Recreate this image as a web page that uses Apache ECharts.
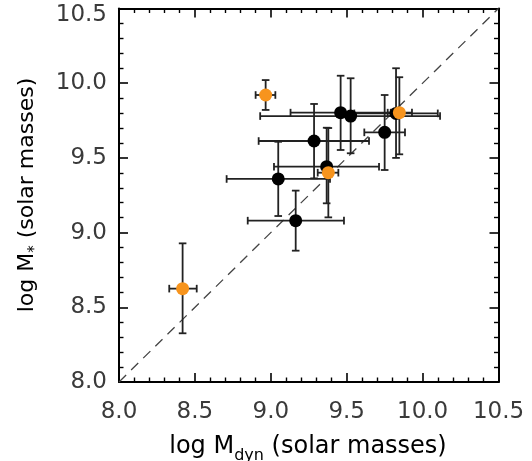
<!DOCTYPE html>
<html>
<head>
<meta charset="utf-8">
<script src="https://cdn.jsdelivr.net/npm/echarts@6/dist/echarts.min.js"></script>
<style>html,body{margin:0;padding:0;background:#fff;}#c{width:532px;height:461px;}</style>
</head>
<body>
<div id="c"></div>
<script>
// Axis ticks
var xTicks = [8.0, 8.5, 9.0, 9.5, 10.0, 10.5];
var yTicks = [8.0, 8.5, 9.0, 9.5, 10.0, 10.5];

// Black points (log Mdyn, log M*) with error bar extents
var blackX     = [9.460, 9.526, 9.825, 9.285, 9.750, 9.368, 9.049, 9.164];
var blackY     = [9.803, 9.780, 9.798, 9.613, 9.671, 9.441, 9.359, 9.080];
var blackXLow  = [9.130, 8.930, 9.550, 8.920, 9.616, 9.021, 8.709, 8.848];
var blackXHigh = [9.790, 10.115, 10.100, 9.647, 9.884, 9.713, 9.390, 9.482];
var blackYLow  = [9.553, 9.531, 9.500, 9.363, 9.419, 9.196, 9.111, 8.879];
var blackYHigh = [10.050, 10.033, 10.100, 9.861, 9.921, 9.702, 9.608, 9.281];

// Orange points
var orangeX     = [8.966, 9.847, 9.379, 8.419];
var orangeY     = [9.921, 9.803, 9.401, 8.625];
var orangeXLow  = [8.900, 9.770, 9.309, 8.331];
var orangeXHigh = [9.030, 9.930, 9.445, 8.512];
var orangeYLow  = [9.821, 9.524, 9.102, 8.326];
var orangeYHigh = [10.021, 10.040, 9.700, 8.928];

// 1:1 line
var oneToOne = [[8.0, 8.0], [10.5, 10.5]];

function build(xs, ys, xl, xh, yl, yh) {
  var out = [];
  for (var i = 0; i < xs.length; i++) out.push([xs[i], ys[i], xl[i], xh[i], yl[i], yh[i]]);
  return out;
}
var errData = build(blackX, blackY, blackXLow, blackXHigh, blackYLow, blackYHigh)
  .concat(build(orangeX, orangeY, orangeXLow, orangeXHigh, orangeYLow, orangeYHigh));
var blackPts = blackX.map(function (v, i) { return [v, blackY[i]]; });
var orangePts = orangeX.map(function (v, i) { return [v, orangeY[i]]; });

var FONT = 'DejaVu Sans';
var TXT = '#3a3a3a';
var cap = 3.8;

function renderErr(params, api) {
  var c = api.coord([api.value(0), api.value(1)]);
  var xl = api.coord([api.value(2), api.value(1)]);
  var xh = api.coord([api.value(3), api.value(1)]);
  var yl = api.coord([api.value(0), api.value(4)]);
  var yh = api.coord([api.value(0), api.value(5)]);
  var st = { stroke: '#222', lineWidth: 1.8 };
  return {
    type: 'group',
    children: [
      { type: 'line', shape: { x1: xl[0], y1: c[1], x2: xh[0], y2: c[1] }, style: st },
      { type: 'line', shape: { x1: xl[0], y1: c[1] - cap, x2: xl[0], y2: c[1] + cap }, style: st },
      { type: 'line', shape: { x1: xh[0], y1: c[1] - cap, x2: xh[0], y2: c[1] + cap }, style: st },
      { type: 'line', shape: { x1: c[0], y1: yl[1], x2: c[0], y2: yh[1] }, style: st },
      { type: 'line', shape: { x1: c[0] - cap, y1: yl[1], x2: c[0] + cap, y2: yl[1] }, style: st },
      { type: 'line', shape: { x1: c[0] - cap, y1: yh[1], x2: c[0] + cap, y2: yh[1] }, style: st }
    ]
  };
}

function axisCommon(showLabel, pos, margin, isY) {
  return {
    type: 'value', min: 8.0, max: 10.5, interval: 0.5, position: pos,
    axisLine: { show: true, onZero: false, lineStyle: { color: '#000', width: 2 } },
    axisTick: { show: true, inside: true, length: 9, lineStyle: { color: '#000', width: 1.6 } },
    minorTick: { show: true, splitNumber: 5, length: 4.5, lineStyle: { color: '#000', width: 1.4 } },
    splitLine: { show: false },
    axisLabel: {
      show: showLabel, fontFamily: FONT, fontSize: 23, color: TXT, margin: margin,
      formatter: function (v) {
        var s = v.toFixed(1);
        if (isY && Math.abs(v - 10.5) < 1e-6) return '{t|' + s + '}';
        return s;
      },
      rich: { t: { fontFamily: FONT, fontSize: 23, color: TXT, padding: [14, 0, 0, 0] } }
    }
  };
}

var chart = echarts.init(document.getElementById('c'), null, { renderer: 'canvas' });
chart.setOption({
  animation: false,
  backgroundColor: '#fff',
  grid: { left: 119, right: 33.5, top: 8.5, bottom: 79, containLabel: false },
  xAxis: [axisCommon(true, 'bottom', 19, false), axisCommon(false, 'top', 8, false)],
  yAxis: [axisCommon(true, 'left', 12, true), axisCommon(false, 'right', 8, true)],
  series: [
    {
      type: 'line', data: oneToOne, symbol: 'none', silent: true, z: 1,
      lineStyle: { color: '#444', width: 1.3, type: [10, 7] }
    },
    {
      type: 'custom', renderItem: renderErr, data: errData, z: 2, silent: true,
      encode: { x: 0, y: 1 }
    },
    {
      type: 'scatter', data: blackPts, symbol: 'circle', symbolSize: 13, z: 3,
      itemStyle: { color: '#000', opacity: 1 }
    },
    {
      type: 'scatter', data: orangePts, symbol: 'circle', symbolSize: 13, z: 4,
      itemStyle: { color: '#F7941D', opacity: 1 }
    }
  ],
  graphic: [
    {
      type: 'text', x: 308, y: 447,
      style: {
        text: '{a|log M}{s|dyn}{a| (solar masses)}',
        textAlign: 'center', textVerticalAlign: 'middle',
        rich: {
          a: { fontFamily: FONT, fontSize: 24, color: TXT, verticalAlign: 'middle' },
          s: { fontFamily: FONT, fontSize: 16, color: TXT, verticalAlign: 'bottom', lineHeight: 33 }
        }
      }
    },
    {
      type: 'text', x: 27, y: 195, rotation: Math.PI / 2,
      style: {
        text: '{a|log M}{s|*}{a| (solar masses)}',
        textAlign: 'center', textVerticalAlign: 'middle',
        rich: {
          a: { fontFamily: FONT, fontSize: 22, color: TXT, verticalAlign: 'middle' },
          s: { fontFamily: FONT, fontSize: 15, color: TXT, verticalAlign: 'bottom', lineHeight: 32 }
        }
      }
    }
  ]
});
</script>
</body>
</html>
